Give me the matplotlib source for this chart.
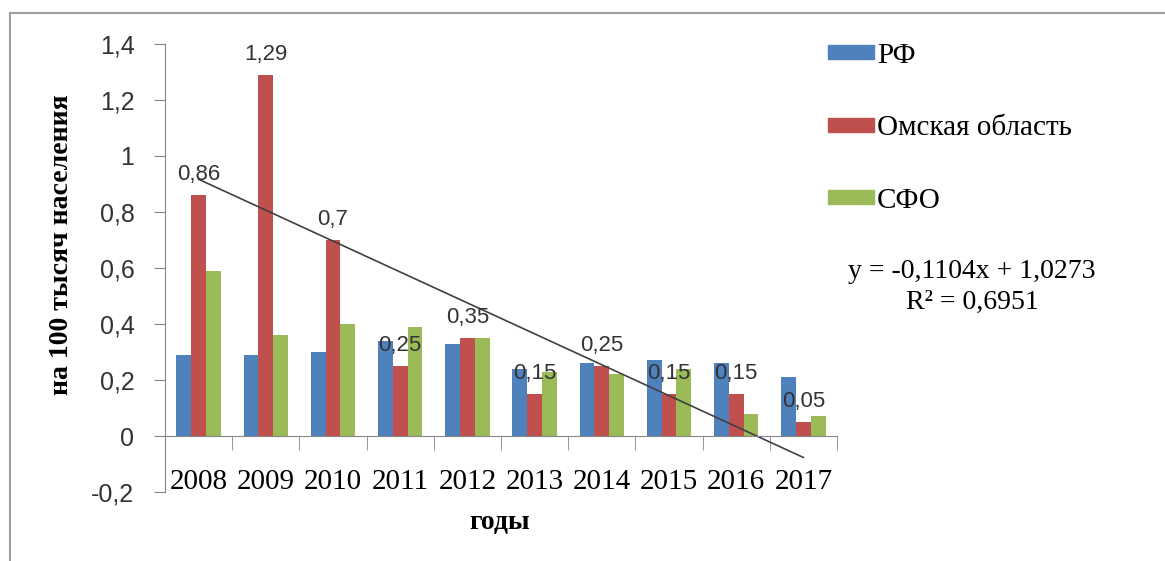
import numpy as np
import matplotlib
matplotlib.use('Agg')
import matplotlib.pyplot as plt
from matplotlib.patches import Rectangle, Patch
from matplotlib.ticker import FuncFormatter

years = ['2008', '2009', '2010', '2011', '2012', '2013', '2014', '2015', '2016', '2017']
rf = [0.29, 0.29, 0.30, 0.34, 0.33, 0.24, 0.26, 0.27, 0.26, 0.21]
omsk = [0.86, 1.29, 0.70, 0.25, 0.35, 0.15, 0.25, 0.15, 0.15, 0.05]
sfo = [0.59, 0.36, 0.40, 0.39, 0.35, 0.23, 0.22, 0.24, 0.08, 0.07]
series_names = ['РФ', 'Омская область', 'СФО']
colors = ['#4F81BD', '#C0504D', '#9BBB59']

# linear trend of the Omsk series (Excel style, x = 1..10)
slope, intercept = -0.1104, 1.0273


def comma(v, pos=None):
    return '{:g}'.format(round(v, 2)).replace('.', ',')


fig = plt.figure(figsize=(11.65, 5.61), dpi=100)
ax = fig.add_axes([165 / 1165, 1 - 492 / 561, (837 - 165) / 1165, (492 - 44) / 561])

x = np.arange(len(years))
w = 0.22
for i, (vals, c) in enumerate(zip([rf, omsk, sfo], colors)):
    ax.bar(x + (i - 1) * w, vals, w, color=c, label=series_names[i])

for xi, v in zip(x, omsk):
    ax.text(xi, v + 0.035, comma(v), ha='center', va='bottom', fontsize=16,
            family='Liberation Sans', color='#333333')

tx = np.array([1, len(years)])
ax.plot(tx - 1, slope * tx + intercept, color='#404040', lw=1.2)

ax.set_xlim(-0.5, len(years) - 0.5)
ax.set_ylim(-0.2, 1.4)
ax.set_yticks(np.arange(-0.2, 1.41, 0.2))
ax.yaxis.set_major_formatter(FuncFormatter(comma))

for s in ['top', 'right']:
    ax.spines[s].set_visible(False)
ax.spines['bottom'].set_position(('data', 0))
ax.spines['left'].set_color('#868686')
ax.spines['bottom'].set_color('#868686')

ax.set_xticks(x)
ax.set_xticklabels(years, family='Liberation Serif', fontsize=21)
ax.set_xticks(np.arange(-0.5, len(years)), minor=True)
ax.tick_params(axis='x', which='major', length=0, pad=24)
ax.tick_params(axis='x', which='minor', length=10, color='#868686', direction='out')
ax.tick_params(axis='y', length=8, color='#868686', labelsize=18, pad=14)
for lab in ax.get_yticklabels():
    lab.set_family('Liberation Sans')
    lab.set_color('#333333')

fig.text(62 / 1165, 1 - 245 / 561, 'на 100 тысяч населения', rotation=90, ha='center', va='center',
         family='Liberation Serif', fontweight='bold', fontsize=20)
fig.text(500 / 1165, 1 - 523 / 561, 'годы', ha='center', va='center',
         family='Liberation Serif', fontweight='bold', fontsize=20)

handles = [Patch(color=c) for c in colors]
fig.legend(handles, series_names, loc='upper left', bbox_to_anchor=(813 / 1165, 1 - 28 / 561),
           frameon=False, prop={'family': 'Liberation Serif', 'size': 21},
           handlelength=1.6, handleheight=0.36, handletextpad=0.1, labelspacing=1.6, borderpad=0)

fig.text(972 / 1165, 1 - 272 / 561, 'y = -0,1104x + 1,0273', ha='center', va='center',
         family='Liberation Serif', fontsize=20)
fig.text(972 / 1165, 1 - 302 / 561, 'R² = 0,6951', ha='center', va='center',
         family='Liberation Serif', fontsize=20)

fig.patches.append(Rectangle((10 / 1165, -0.05), 1.1, 1 - 13 / 561 + 0.05, transform=fig.transFigure,
                             fill=False, edgecolor='#A0A0A0', lw=1.5))

fig.savefig('out.png', dpi=100)
